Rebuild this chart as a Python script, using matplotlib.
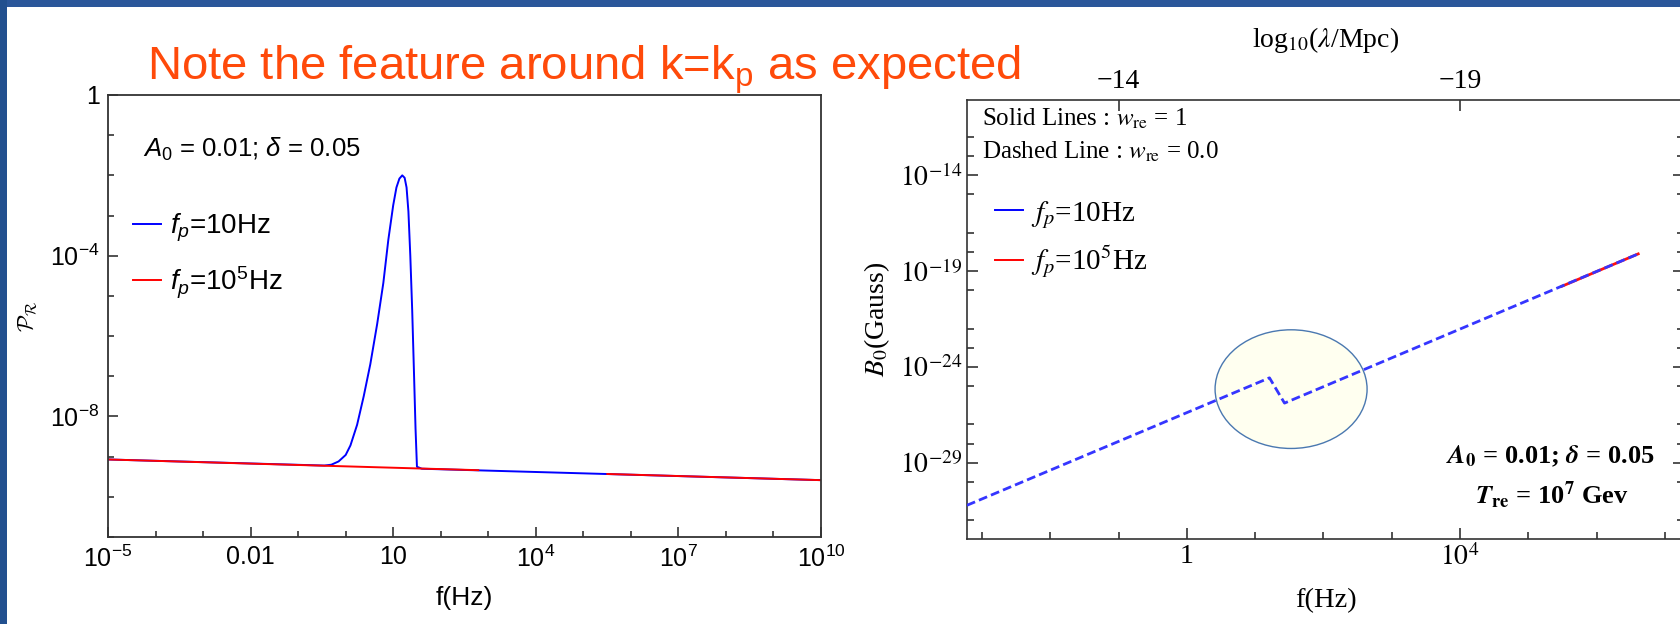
import numpy as np
import matplotlib.pyplot as plt
from matplotlib.patches import Ellipse, Rectangle
from matplotlib.lines import Line2D
from matplotlib.ticker import NullFormatter, NullLocator

plt.rcParams['font.family'] = ['Liberation Sans', 'DejaVu Sans']
plt.rcParams['mathtext.fontset'] = 'custom'
plt.rcParams['mathtext.rm'] = 'Liberation Sans'
plt.rcParams['mathtext.it'] = 'Liberation Sans:italic'
plt.rcParams['mathtext.bf'] = 'Liberation Sans:bold'

# --- curvature power spectrum P_R(f) ---
f_blue = [1e-5, 0.355, 0.50, 0.71, 1.0, 1.26, 1.74, 2.4, 3.3, 4.6, 6.2, 7.9,
          10.0, 11.7, 13.5, 15.5, 17.4, 19.1, 20.9, 22.9, 25.1, 27.5, 29.5,
          31.6, 40.0, 1e10]
P_blue = [8.5e-10, 6.0e-10, 6.3e-10, 7.6e-10, 1.1e-9, 1.9e-9, 6.2e-9, 3.2e-8,
          2.0e-7, 2.0e-6, 2.1e-5, 2.5e-4, 1.8e-3, 5.0e-3, 8.3e-3, 1.0e-2,
          8.7e-3, 5.0e-3, 1.26e-3, 1.0e-4, 4.4e-6, 1.0e-7, 5.0e-9, 5.6e-10,
          5.0e-10, 2.6e-10]
f_red_a = [1e-5, 617.0]
P_red_a = [8.5e-10, 4.6e-10]
f_red_b = [3.2e5, 1e10]
P_red_b = [3.7e-10, 2.6e-10]

# --- magnetic field today B0(f) ---
f_dash = [6.0e-4, 16.2, 26.9, 4.07e6]
B_dash = [6.1e-32, 2.7e-25, 1.3e-26, 7.8e-19]
f_solid_red = [3.1e5, 4.07e6]
B_solid_red = [1.6e-20, 7.8e-19]

left_xticks = [1e-5, 1e-2, 10, 1e4, 1e7, 1e10]
left_xlabels = ['$10^{-5}$', '0.01', '10', '$10^{4}$', '$10^{7}$', '$10^{10}$']
left_yticks = [1, 1e-4, 1e-8]
left_ylabels = ['1', '$10^{-4}$', '$10^{-8}$']

right_xticks = [1, 1e4]
right_xlabels = ['1', '$10^{4}$']
right_xminor = [1e-3, 1e-2, 1e-1, 10, 100, 1e3, 1e5, 1e6, 1e7]
right_yticks = [1e-14, 1e-19, 1e-24, 1e-29]
right_ylabels = ['$10^{-14}$', '$10^{-19}$', '$10^{-24}$', '$10^{-29}$']
right_yminor = [1e-12, 1e-13, 1e-15, 1e-17, 1e-18, 1e-20, 1e-22, 1e-23,
                1e-25, 1e-27, 1e-28, 1e-30, 1e-32]
# top axis: log10(lambda/Mpc) = -15 - log10(f/Hz)
lam_ticks = [-14, -19]
lam_labels = ['\u221214', '\u221219']

W, H = 1680, 624
fig = plt.figure(figsize=(W / 100, H / 100), dpi=100)
fig.patch.set_facecolor('white')

# slide frame
fig.patches.append(Rectangle((0, 1 - 7 / H), 1, 7 / H, transform=fig.transFigure,
                             facecolor='#2b579a', edgecolor='none', zorder=0))
fig.patches.append(Rectangle((0, 0), 7 / W, 1, transform=fig.transFigure,
                             facecolor='#22508f', edgecolor='none', zorder=0))

fig.text(147 / W, 1 - 80 / H, r'Note the feature around k=k$_\mathrm{p}$ as expected',
         fontsize=34, color='#ff4a0a', va='baseline', ha='left')

spine_c = '#333333'

# ---------------- left panel ----------------
ax1 = fig.add_axes([108 / W, 1 - 537 / H, (821 - 108) / W, (537 - 95) / H])
ax1.plot(f_blue, P_blue, color='#0000ff', lw=1.4)
ax1.plot(f_red_a, P_red_a, color='#ff0000', lw=1.4)
ax1.plot(f_red_b, P_red_b, color='#ff0000', lw=1.4)
ax1.set_xscale('log')
ax1.set_yscale('log')
ax1.set_xlim(1e-5, 1e10)
ax1.set_ylim(1e-11, 1)
ax1.set_xticks(left_xticks, labels=left_xlabels, fontsize=18)
ax1.set_yticks(left_yticks, labels=left_ylabels, fontsize=18)
ax1.set_xticks([10.0 ** e for e in range(-5, 11) if e % 3 != 1], minor=True)
ax1.set_yticks([10.0 ** e for e in range(-11, 1) if e % 4 != 0], minor=True)
ax1.xaxis.set_minor_formatter(NullFormatter())
ax1.yaxis.set_minor_formatter(NullFormatter())
ax1.tick_params(which='both', direction='in', width=1.2, color=spine_c)
ax1.tick_params(which='major', length=7, pad=6)
ax1.tick_params(which='minor', length=4.5)
for s in ax1.spines.values():
    s.set_color(spine_c)
    s.set_linewidth(1.3)
ax1.set_xlabel('f(Hz)', fontsize=19, va='center')
ax1.xaxis.set_label_coords(0.5, -0.137)
ax1.set_ylabel(r'$\mathcal{P}_{\mathcal{R}}$', fontsize=16, math_fontfamily='cm',
               va='center')
ax1.yaxis.set_label_coords(-0.112, 0.5)
ax1.text(0.049, 0.877, r'$A_0$ = 0.01; $\delta$ = 0.05', transform=ax1.transAxes,
         fontsize=18.5, va='center', ha='left')
h1 = [Line2D([], [], color='#0000ff', lw=1.4), Line2D([], [], color='#ff0000', lw=1.4)]
ax1.legend(h1, [r'$f_p$=10Hz', r'$f_p$=10$^5$Hz'], loc='upper left',
           bbox_to_anchor=(0.035, 0.735), frameon=False, fontsize=20,
           handlelength=1.0, handletextpad=0.35, labelspacing=0.72,
           borderpad=0, borderaxespad=0)

# ---------------- right panel ----------------
serif = 'Liberation Serif'
ax2 = fig.add_axes([967 / W, 1 - 539 / H, (1684 - 967) / W, (539 - 99.5) / H])
ax2.plot(f_solid_red, B_solid_red, color='#ff1010', lw=2.0, zorder=2)
ax2.plot(f_dash, B_dash, color='#3535ff', lw=2.0, dashes=(3.2, 1.5), zorder=3)
ax2.add_patch(Ellipse((0.452, 0.341), 0.212, 0.27, transform=ax2.transAxes,
                      facecolor='#fffff0', edgecolor='#4a78b0', lw=1.0, zorder=1))
ax2.set_xscale('log')
ax2.set_yscale('log')
ax2.set_xlim(10 ** -3.22, 10 ** 7.28)
ax2.set_ylim(10 ** -32.97, 10 ** -10.06)
ax2.set_xticks(right_xticks, labels=right_xlabels, fontsize=20, family=serif,
               math_fontfamily='stix')
ax2.set_yticks(right_yticks, labels=right_ylabels, fontsize=20, family=serif,
               math_fontfamily='stix')
ax2.set_xticks(right_xminor, minor=True)
ax2.set_yticks(right_yminor, minor=True)
ax2.xaxis.set_minor_formatter(NullFormatter())
ax2.yaxis.set_minor_formatter(NullFormatter())
ax2.tick_params(which='both', direction='in', width=1.2, color=spine_c, right=True)
ax2.tick_params(which='major', length=8, pad=3.5)
ax2.tick_params(which='minor', length=5)
for s in ax2.spines.values():
    s.set_color(spine_c)
    s.set_linewidth(1.2)

top = ax2.twiny()
top.set_xscale('log')
top.set_xlim(ax2.get_xlim())
top.set_xticks([10.0 ** (-15 - l) for l in lam_ticks], labels=lam_labels,
               fontsize=20, family=serif)
top.xaxis.set_minor_locator(NullLocator())
top.tick_params(axis='x', direction='in', length=8, width=1.2, color=spine_c, pad=4)
for s in top.spines.values():
    s.set_visible(False)
top.set_xlabel(r'log$_{10}$($\lambda$/Mpc)', fontsize=20, family=serif,
               math_fontfamily='stix', va='center')
top.xaxis.set_label_coords(0.5, 1.135)

ax2.set_xlabel('f(Hz)', fontsize=20.5, family=serif, va='center')
ax2.xaxis.set_label_coords(0.5, -0.141)
ax2.set_ylabel(r'$B_0$(Gauss)', fontsize=20, family=serif, math_fontfamily='stix',
               va='center')
ax2.yaxis.set_label_coords(-0.1255, 0.5)

ax2.text(0.021, 0.956, r'Solid Lines : $w_{\rm re}$ = 1', transform=ax2.transAxes,
         fontsize=18, family=serif, math_fontfamily='stix', va='center')
ax2.text(0.021, 0.881, r'Dashed Line : $w_{\rm re}$ = 0.0', transform=ax2.transAxes,
         fontsize=18, family=serif, math_fontfamily='stix', va='center')
h2 = [Line2D([], [], color='#0000ff', lw=1.4), Line2D([], [], color='#ff0000', lw=1.4)]
ax2.legend(h2, [r'$f_p$=10Hz', r'$f_p$=10$^5$Hz'], loc='upper left',
           bbox_to_anchor=(0.039, 0.774), frameon=False,
           prop={'family': serif, 'size': 21, 'math_fontfamily': 'stix'},
           handlelength=0.95, handletextpad=0.3, labelspacing=0.45,
           borderpad=0, borderaxespad=0)
ax2.text(0.9596, 0.189, r'$\mathbfit{A}_\mathbf{0}$ = 0.01; $\mathbfit{\delta}$ = 0.05',
         transform=ax2.transAxes, fontsize=19, family=serif, weight='bold',
         math_fontfamily='stix', ha='right', va='center')
ax2.text(0.816, 0.10, r'$\mathbfit{T}_\mathbf{re}$ = 10$^\mathbf{7}$ Gev',
         transform=ax2.transAxes, fontsize=19, family=serif, weight='bold',
         math_fontfamily='stix', ha='center', va='center')

fig.savefig('out.png', dpi=100)
